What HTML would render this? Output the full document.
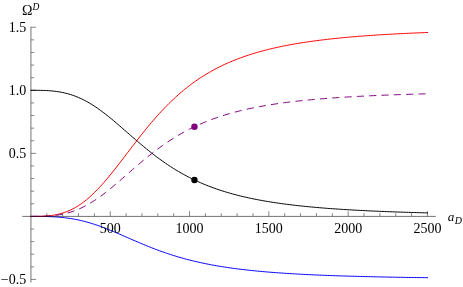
<!DOCTYPE html>
<html><head><meta charset="utf-8"><title>plot</title>
<style>
html,body{margin:0;padding:0;background:#fff;}
svg{display:block;will-change:transform;}
text{font-family:"Liberation Serif","DejaVu Serif",serif;font-size:14px;fill:#000;}
</style></head><body>
<svg width="463" height="287" viewBox="0 0 463 287">
<rect width="463" height="287" fill="#fff"/>
<g fill="none" stroke-width="1" stroke-linejoin="round">
<path d="M30.93,90.30 L32.52,90.30 L34.10,90.30 L35.69,90.31 L37.27,90.32 L38.86,90.34 L40.45,90.36 L42.03,90.40 L43.62,90.44 L45.20,90.51 L46.79,90.58 L48.38,90.68 L49.96,90.79 L51.55,90.92 L53.14,91.07 L54.72,91.25 L56.31,91.45 L57.89,91.68 L59.48,91.93 L61.07,92.21 L62.65,92.52 L64.24,92.87 L65.82,93.24 L67.41,93.65 L69.00,94.10 L70.58,94.57 L72.17,95.09 L73.75,95.64 L75.34,96.22 L76.93,96.85 L78.51,97.51 L80.10,98.20 L81.68,98.94 L83.27,99.71 L84.86,100.52 L86.44,101.37 L88.03,102.26 L89.61,103.17 L91.20,104.13 L92.79,105.12 L94.37,106.14 L95.96,107.20 L97.55,108.28 L99.13,109.40 L100.72,110.54 L102.30,111.71 L103.89,112.91 L105.48,114.14 L107.06,115.38 L108.65,116.65 L110.23,117.93 L111.82,119.23 L113.41,120.55 L114.99,121.89 L116.58,123.23 L118.16,124.59 L119.75,125.96 L121.34,127.33 L122.92,128.71 L124.51,130.09 L126.09,131.48 L127.68,132.87 L129.27,134.25 L130.85,135.64 L132.44,137.02 L134.03,138.39 L135.61,139.76 L137.20,141.12 L138.78,142.48 L140.37,143.82 L141.96,145.16 L143.54,146.48 L145.13,147.79 L146.71,149.09 L148.30,150.37 L149.89,151.64 L151.47,152.89 L153.06,154.12 L154.64,155.34 L156.23,156.55 L157.82,157.73 L159.40,158.90 L160.99,160.05 L162.57,161.18 L164.16,162.29 L165.75,163.39 L167.33,164.46 L168.92,165.52 L170.51,166.55 L172.09,167.57 L173.68,168.57 L175.26,169.55 L176.85,170.51 L178.44,171.46 L180.02,172.38 L181.61,173.28 L183.19,174.17 L184.78,175.04 L186.37,175.89 L187.95,176.72 L189.54,177.54 L191.12,178.34 L192.71,179.12 L194.30,179.88 L195.88,180.63 L197.47,181.36 L199.05,182.07 L200.64,182.77 L202.23,183.46 L203.81,184.13 L205.40,184.78 L206.98,185.42 L208.57,186.04 L210.16,186.65 L211.74,187.25 L213.33,187.83 L214.92,188.40 L216.50,188.96 L218.09,189.50 L219.67,190.04 L221.26,190.56 L222.85,191.06 L224.43,191.56 L226.02,192.04 L227.60,192.52 L229.19,192.98 L230.78,193.43 L232.36,193.88 L233.95,194.31 L235.53,194.73 L237.12,195.14 L238.71,195.55 L240.29,195.94 L241.88,196.32 L243.46,196.70 L245.05,197.07 L246.64,197.43 L248.22,197.78 L249.81,198.12 L251.40,198.46 L252.98,198.79 L254.57,199.11 L256.15,199.42 L257.74,199.73 L259.33,200.03 L260.91,200.32 L262.50,200.61 L264.08,200.89 L265.67,201.17 L267.26,201.43 L268.84,201.70 L270.43,201.95 L272.01,202.21 L273.60,202.45 L275.19,202.69 L276.77,202.93 L278.36,203.16 L279.94,203.38 L281.53,203.60 L283.12,203.82 L284.70,204.03 L286.29,204.24 L287.87,204.44 L289.46,204.64 L291.05,204.83 L292.63,205.02 L294.22,205.21 L295.81,205.39 L297.39,205.57 L298.98,205.75 L300.56,205.92 L302.15,206.09 L303.74,206.25 L305.32,206.41 L306.91,206.57 L308.49,206.72 L310.08,206.87 L311.67,207.02 L313.25,207.17 L314.84,207.31 L316.42,207.45 L318.01,207.59 L319.60,207.72 L321.18,207.86 L322.77,207.98 L324.35,208.11 L325.94,208.24 L327.53,208.36 L329.11,208.48 L330.70,208.59 L332.29,208.71 L333.87,208.82 L335.46,208.93 L337.04,209.04 L338.63,209.15 L340.22,209.25 L341.80,209.36 L343.39,209.46 L344.97,209.56 L346.56,209.65 L348.15,209.75 L349.73,209.84 L351.32,209.93 L352.90,210.02 L354.49,210.11 L356.08,210.20 L357.66,210.29 L359.25,210.37 L360.83,210.45 L362.42,210.53 L364.01,210.61 L365.59,210.69 L367.18,210.77 L368.77,210.84 L370.35,210.92 L371.94,210.99 L373.52,211.06 L375.11,211.13 L376.70,211.20 L378.28,211.27 L379.87,211.34 L381.45,211.40 L383.04,211.47 L384.63,211.53 L386.21,211.59 L387.80,211.65 L389.38,211.71 L390.97,211.77 L392.56,211.83 L394.14,211.89 L395.73,211.95 L397.31,212.00 L398.90,212.06 L400.49,212.11 L402.07,212.16 L403.66,212.22 L405.24,212.27 L406.83,212.32 L408.42,212.37 L410.00,212.42 L411.59,212.46 L413.18,212.51 L414.76,212.56 L416.35,212.60 L417.93,212.65 L419.52,212.69 L421.11,212.74 L422.69,212.78 L424.28,212.82 L425.86,212.86 L427.45,212.90" stroke="#000" stroke-linecap="square"/>
<path d="M30.93,216.40 L32.52,216.40 L34.10,216.40 L35.69,216.40 L37.27,216.41 L38.86,216.42 L40.45,216.43 L42.03,216.45 L43.62,216.47 L45.20,216.50 L46.79,216.54 L48.38,216.59 L49.96,216.64 L51.55,216.71 L53.14,216.79 L54.72,216.87 L56.31,216.97 L57.89,217.09 L59.48,217.21 L61.07,217.36 L62.65,217.51 L64.24,217.68 L65.82,217.87 L67.41,218.08 L69.00,218.30 L70.58,218.54 L72.17,218.79 L73.75,219.07 L75.34,219.36 L76.93,219.67 L78.51,220.00 L80.10,220.35 L81.68,220.72 L83.27,221.11 L84.86,221.51 L86.44,221.94 L88.03,222.38 L89.61,222.84 L91.20,223.31 L92.79,223.81 L94.37,224.32 L95.96,224.85 L97.55,225.39 L99.13,225.95 L100.72,226.52 L102.30,227.11 L103.89,227.71 L105.48,228.32 L107.06,228.94 L108.65,229.57 L110.23,230.22 L111.82,230.87 L113.41,231.53 L114.99,232.19 L116.58,232.87 L118.16,233.55 L119.75,234.23 L121.34,234.91 L122.92,235.60 L124.51,236.30 L126.09,236.99 L127.68,237.68 L129.27,238.38 L130.85,239.07 L132.44,239.76 L134.03,240.45 L135.61,241.13 L137.20,241.81 L138.78,242.49 L140.37,243.16 L141.96,243.83 L143.54,244.49 L145.13,245.14 L146.71,245.79 L148.30,246.43 L149.89,247.07 L151.47,247.69 L153.06,248.31 L154.64,248.92 L156.23,249.52 L157.82,250.12 L159.40,250.70 L160.99,251.27 L162.57,251.84 L164.16,252.40 L165.75,252.94 L167.33,253.48 L168.92,254.01 L170.51,254.53 L172.09,255.04 L173.68,255.54 L175.26,256.03 L176.85,256.51 L178.44,256.98 L180.02,257.44 L181.61,257.89 L183.19,258.34 L184.78,258.77 L186.37,259.20 L187.95,259.61 L189.54,260.02 L191.12,260.42 L192.71,260.81 L194.30,261.19 L195.88,261.56 L197.47,261.93 L199.05,262.29 L200.64,262.64 L202.23,262.98 L203.81,263.31 L205.40,263.64 L206.98,263.96 L208.57,264.27 L210.16,264.58 L211.74,264.88 L213.33,265.17 L214.92,265.45 L216.50,265.73 L218.09,266.00 L219.67,266.27 L221.26,266.53 L222.85,266.78 L224.43,267.03 L226.02,267.27 L227.60,267.51 L229.19,267.74 L230.78,267.97 L232.36,268.19 L233.95,268.40 L235.53,268.61 L237.12,268.82 L238.71,269.02 L240.29,269.22 L241.88,269.41 L243.46,269.60 L245.05,269.78 L246.64,269.96 L248.22,270.14 L249.81,270.31 L251.40,270.48 L252.98,270.64 L254.57,270.80 L256.15,270.96 L257.74,271.12 L259.33,271.27 L260.91,271.41 L262.50,271.56 L264.08,271.70 L265.67,271.83 L267.26,271.97 L268.84,272.10 L270.43,272.23 L272.01,272.35 L273.60,272.48 L275.19,272.60 L276.77,272.71 L278.36,272.83 L279.94,272.94 L281.53,273.05 L283.12,273.16 L284.70,273.27 L286.29,273.37 L287.87,273.47 L289.46,273.57 L291.05,273.67 L292.63,273.76 L294.22,273.85 L295.81,273.95 L297.39,274.04 L298.98,274.12 L300.56,274.21 L302.15,274.29 L303.74,274.37 L305.32,274.46 L306.91,274.53 L308.49,274.61 L310.08,274.69 L311.67,274.76 L313.25,274.83 L314.84,274.91 L316.42,274.98 L318.01,275.04 L319.60,275.11 L321.18,275.18 L322.77,275.24 L324.35,275.31 L325.94,275.37 L327.53,275.43 L329.11,275.49 L330.70,275.55 L332.29,275.60 L333.87,275.66 L335.46,275.72 L337.04,275.77 L338.63,275.82 L340.22,275.88 L341.80,275.93 L343.39,275.98 L344.97,276.03 L346.56,276.08 L348.15,276.12 L349.73,276.17 L351.32,276.22 L352.90,276.26 L354.49,276.31 L356.08,276.35 L357.66,276.39 L359.25,276.43 L360.83,276.48 L362.42,276.52 L364.01,276.56 L365.59,276.60 L367.18,276.63 L368.77,276.67 L370.35,276.71 L371.94,276.75 L373.52,276.78 L375.11,276.82 L376.70,276.85 L378.28,276.88 L379.87,276.92 L381.45,276.95 L383.04,276.98 L384.63,277.02 L386.21,277.05 L387.80,277.08 L389.38,277.11 L390.97,277.14 L392.56,277.17 L394.14,277.19 L395.73,277.22 L397.31,277.25 L398.90,277.28 L400.49,277.31 L402.07,277.33 L403.66,277.36 L405.24,277.38 L406.83,277.41 L408.42,277.43 L410.00,277.46 L411.59,277.48 L413.18,277.51 L414.76,277.53 L416.35,277.55 L417.93,277.57 L419.52,277.60 L421.11,277.62 L422.69,277.64 L424.28,277.66 L425.86,277.68 L427.45,277.70" stroke="#00f" stroke-linecap="square"/>
<path d="M30.93,216.40 L32.52,216.40 L34.10,216.40 L35.69,216.39 L37.27,216.37 L38.86,216.35 L40.45,216.31 L42.03,216.25 L43.62,216.18 L45.20,216.09 L46.79,215.98 L48.38,215.84 L49.96,215.67 L51.55,215.47 L53.14,215.24 L54.72,214.98 L56.31,214.68 L57.89,214.34 L59.48,213.96 L61.07,213.53 L62.65,213.06 L64.24,212.55 L65.82,211.98 L67.41,211.37 L69.00,210.71 L70.58,209.99 L72.17,209.22 L73.75,208.40 L75.34,207.52 L76.93,206.58 L78.51,205.59 L80.10,204.54 L81.68,203.44 L83.27,202.28 L84.86,201.06 L86.44,199.79 L88.03,198.47 L89.61,197.09 L91.20,195.66 L92.79,194.17 L94.37,192.64 L95.96,191.06 L97.55,189.43 L99.13,187.75 L100.72,186.04 L102.30,184.28 L103.89,182.48 L105.48,180.65 L107.06,178.78 L108.65,176.88 L110.23,174.95 L111.82,173.00 L113.41,171.02 L114.99,169.02 L116.58,167.00 L118.16,164.96 L119.75,162.92 L121.34,160.86 L122.92,158.79 L124.51,156.71 L126.09,154.63 L127.68,152.55 L129.27,150.47 L130.85,148.40 L132.44,146.33 L134.03,144.26 L135.61,142.21 L137.20,140.16 L138.78,138.13 L140.37,136.12 L141.96,134.11 L143.54,132.13 L145.13,130.17 L146.71,128.22 L148.30,126.30 L149.89,124.40 L151.47,122.52 L153.06,120.66 L154.64,118.83 L156.23,117.03 L157.82,115.25 L159.40,113.50 L160.99,111.78 L162.57,110.08 L164.16,108.41 L165.75,106.77 L167.33,105.16 L168.92,103.57 L170.51,102.02 L172.09,100.49 L173.68,98.99 L175.26,97.52 L176.85,96.08 L178.44,94.67 L180.02,93.28 L181.61,91.92 L183.19,90.59 L184.78,89.29 L186.37,88.01 L187.95,86.76 L189.54,85.54 L191.12,84.34 L192.71,83.17 L194.30,82.03 L195.88,80.91 L197.47,79.81 L199.05,78.74 L200.64,77.69 L202.23,76.66 L203.81,75.66 L205.40,74.68 L206.98,73.72 L208.57,72.79 L210.16,71.87 L211.74,70.97 L213.33,70.10 L214.92,69.25 L216.50,68.41 L218.09,67.59 L219.67,66.80 L221.26,66.02 L222.85,65.26 L224.43,64.51 L226.02,63.78 L227.60,63.07 L229.19,62.38 L230.78,61.70 L232.36,61.04 L233.95,60.39 L235.53,59.76 L237.12,59.14 L238.71,58.53 L240.29,57.94 L241.88,57.36 L243.46,56.80 L245.05,56.25 L246.64,55.71 L248.22,55.18 L249.81,54.66 L251.40,54.16 L252.98,53.67 L254.57,53.19 L256.15,52.72 L257.74,52.25 L259.33,51.80 L260.91,51.36 L262.50,50.93 L264.08,50.51 L265.67,50.10 L267.26,49.70 L268.84,49.30 L270.43,48.92 L272.01,48.54 L273.60,48.17 L275.19,47.81 L276.77,47.46 L278.36,47.11 L279.94,46.78 L281.53,46.44 L283.12,46.12 L284.70,45.80 L286.29,45.49 L287.87,45.19 L289.46,44.89 L291.05,44.60 L292.63,44.31 L294.22,44.04 L295.81,43.76 L297.39,43.49 L298.98,43.23 L300.56,42.97 L302.15,42.72 L303.74,42.48 L305.32,42.23 L306.91,42.00 L308.49,41.77 L310.08,41.54 L311.67,41.31 L313.25,41.10 L314.84,40.88 L316.42,40.67 L318.01,40.47 L319.60,40.26 L321.18,40.07 L322.77,39.87 L324.35,39.68 L325.94,39.50 L327.53,39.31 L329.11,39.13 L330.70,38.96 L332.29,38.79 L333.87,38.62 L335.46,38.45 L337.04,38.29 L338.63,38.13 L340.22,37.97 L341.80,37.82 L343.39,37.66 L344.97,37.52 L346.56,37.37 L348.15,37.23 L349.73,37.09 L351.32,36.95 L352.90,36.81 L354.49,36.68 L356.08,36.55 L357.66,36.42 L359.25,36.30 L360.83,36.17 L362.42,36.05 L364.01,35.93 L365.59,35.81 L367.18,35.70 L368.77,35.58 L370.35,35.47 L371.94,35.36 L373.52,35.26 L375.11,35.15 L376.70,35.05 L378.28,34.95 L379.87,34.85 L381.45,34.75 L383.04,34.65 L384.63,34.55 L386.21,34.46 L387.80,34.37 L389.38,34.28 L390.97,34.19 L392.56,34.10 L394.14,34.02 L395.73,33.93 L397.31,33.85 L398.90,33.77 L400.49,33.68 L402.07,33.61 L403.66,33.53 L405.24,33.45 L406.83,33.37 L408.42,33.30 L410.00,33.23 L411.59,33.15 L413.18,33.08 L414.76,33.01 L416.35,32.95 L417.93,32.88 L419.52,32.81 L421.11,32.75 L422.69,32.68 L424.28,32.62 L425.86,32.55 L427.45,32.49" stroke="#f00" stroke-linecap="square"/>
<path d="M30.93,216.40 L32.52,216.40 L34.10,216.40 L35.69,216.39 L37.27,216.38 L38.86,216.36 L40.45,216.34 L42.03,216.30 L43.62,216.26 L45.20,216.19 L46.79,216.12 L48.38,216.02 L49.96,215.91 L51.55,215.78 L53.14,215.63 L54.72,215.45 L56.31,215.25 L57.89,215.02 L59.48,214.77 L61.07,214.49 L62.65,214.18 L64.24,213.83 L65.82,213.46 L67.41,213.05 L69.00,212.60 L70.58,212.13 L72.17,211.61 L73.75,211.06 L75.34,210.48 L76.93,209.85 L78.51,209.19 L80.10,208.50 L81.68,207.76 L83.27,206.99 L84.86,206.18 L86.44,205.33 L88.03,204.44 L89.61,203.53 L91.20,202.57 L92.79,201.58 L94.37,200.56 L95.96,199.50 L97.55,198.42 L99.13,197.30 L100.72,196.16 L102.30,194.99 L103.89,193.79 L105.48,192.56 L107.06,191.32 L108.65,190.05 L110.23,188.77 L111.82,187.47 L113.41,186.15 L114.99,184.81 L116.58,183.47 L118.16,182.11 L119.75,180.74 L121.34,179.37 L122.92,177.99 L124.51,176.61 L126.09,175.22 L127.68,173.83 L129.27,172.45 L130.85,171.06 L132.44,169.68 L134.03,168.31 L135.61,166.94 L137.20,165.58 L138.78,164.22 L140.37,162.88 L141.96,161.54 L143.54,160.22 L145.13,158.91 L146.71,157.61 L148.30,156.33 L149.89,155.06 L151.47,153.81 L153.06,152.58 L154.64,151.36 L156.23,150.15 L157.82,148.97 L159.40,147.80 L160.99,146.65 L162.57,145.52 L164.16,144.41 L165.75,143.31 L167.33,142.24 L168.92,141.18 L170.51,140.15 L172.09,139.13 L173.68,138.13 L175.26,137.15 L176.85,136.19 L178.44,135.24 L180.02,134.32 L181.61,133.42 L183.19,132.53 L184.78,131.66 L186.37,130.81 L187.95,129.98 L189.54,129.16 L191.12,128.36 L192.71,127.58 L194.30,126.82 L195.88,126.07 L197.47,125.34 L199.05,124.63 L200.64,123.93 L202.23,123.24 L203.81,122.57 L205.40,121.92 L206.98,121.28 L208.57,120.66 L210.16,120.05 L211.74,119.45 L213.33,118.87 L214.92,118.30 L216.50,117.74 L218.09,117.20 L219.67,116.66 L221.26,116.14 L222.85,115.64 L224.43,115.14 L226.02,114.66 L227.60,114.18 L229.19,113.72 L230.78,113.27 L232.36,112.82 L233.95,112.39 L235.53,111.97 L237.12,111.56 L238.71,111.15 L240.29,110.76 L241.88,110.38 L243.46,110.00 L245.05,109.63 L246.64,109.27 L248.22,108.92 L249.81,108.58 L251.40,108.24 L252.98,107.91 L254.57,107.59 L256.15,107.28 L257.74,106.97 L259.33,106.67 L260.91,106.38 L262.50,106.09 L264.08,105.81 L265.67,105.53 L267.26,105.27 L268.84,105.00 L270.43,104.75 L272.01,104.49 L273.60,104.25 L275.19,104.01 L276.77,103.77 L278.36,103.54 L279.94,103.32 L281.53,103.10 L283.12,102.88 L284.70,102.67 L286.29,102.46 L287.87,102.26 L289.46,102.06 L291.05,101.87 L292.63,101.68 L294.22,101.49 L295.81,101.31 L297.39,101.13 L298.98,100.95 L300.56,100.78 L302.15,100.61 L303.74,100.45 L305.32,100.29 L306.91,100.13 L308.49,99.98 L310.08,99.83 L311.67,99.68 L313.25,99.53 L314.84,99.39 L316.42,99.25 L318.01,99.11 L319.60,98.98 L321.18,98.84 L322.77,98.72 L324.35,98.59 L325.94,98.46 L327.53,98.34 L329.11,98.22 L330.70,98.11 L332.29,97.99 L333.87,97.88 L335.46,97.77 L337.04,97.66 L338.63,97.55 L340.22,97.45 L341.80,97.34 L343.39,97.24 L344.97,97.14 L346.56,97.05 L348.15,96.95 L349.73,96.86 L351.32,96.77 L352.90,96.68 L354.49,96.59 L356.08,96.50 L357.66,96.41 L359.25,96.33 L360.83,96.25 L362.42,96.17 L364.01,96.09 L365.59,96.01 L367.18,95.93 L368.77,95.86 L370.35,95.78 L371.94,95.71 L373.52,95.64 L375.11,95.57 L376.70,95.50 L378.28,95.43 L379.87,95.36 L381.45,95.30 L383.04,95.23 L384.63,95.17 L386.21,95.11 L387.80,95.05 L389.38,94.99 L390.97,94.93 L392.56,94.87 L394.14,94.81 L395.73,94.75 L397.31,94.70 L398.90,94.64 L400.49,94.59 L402.07,94.54 L403.66,94.48 L405.24,94.43 L406.83,94.38 L408.42,94.33 L410.00,94.28 L411.59,94.24 L413.18,94.19 L414.76,94.14 L416.35,94.10 L417.93,94.05 L419.52,94.01 L421.11,93.96 L422.69,93.92 L424.28,93.88 L425.86,93.84 L427.45,93.80" stroke="#800080" stroke-dasharray="7.15 5.18"/>
</g>
<g fill="none" stroke="#000" stroke-width="0.92" opacity="0.6">
<path d="M22.3,216.4 H435.8 M30.93,26.7 V282.6"/>
<path d="M46.79,216.4 v-3.2 M62.65,216.4 v-3.2 M78.51,216.4 v-3.2 M94.37,216.4 v-3.2 M110.23,216.4 v-5.2 M126.09,216.4 v-3.2 M141.96,216.4 v-3.2 M157.82,216.4 v-3.2 M173.68,216.4 v-3.2 M189.54,216.4 v-5.2 M205.40,216.4 v-3.2 M221.26,216.4 v-3.2 M237.12,216.4 v-3.2 M252.98,216.4 v-3.2 M268.84,216.4 v-5.2 M284.70,216.4 v-3.2 M300.56,216.4 v-3.2 M316.42,216.4 v-3.2 M332.29,216.4 v-3.2 M348.15,216.4 v-5.2 M364.01,216.4 v-3.2 M379.87,216.4 v-3.2 M395.73,216.4 v-3.2 M411.59,216.4 v-3.2 M427.45,216.4 v-5.2 M30.93,279.45 h5.2 M30.93,266.84 h3.2 M30.93,254.23 h3.2 M30.93,241.62 h3.2 M30.93,229.01 h3.2 M30.93,203.79 h3.2 M30.93,191.18 h3.2 M30.93,178.57 h3.2 M30.93,165.96 h3.2 M30.93,153.35 h5.2 M30.93,140.74 h3.2 M30.93,128.13 h3.2 M30.93,115.52 h3.2 M30.93,102.91 h3.2 M30.93,90.30 h5.2 M30.93,77.69 h3.2 M30.93,65.08 h3.2 M30.93,52.47 h3.2 M30.93,39.86 h3.2 M30.93,27.25 h5.2" stroke-width="0.8"/>
</g>
<circle cx="194.45" cy="126.74" r="3.2" fill="#800080"/>
<circle cx="194.45" cy="179.96" r="3.2" fill="#000"/>
<g><text x="110.23" y="233.0" text-anchor="middle">500</text><text x="189.54" y="233.0" text-anchor="middle">1000</text><text x="268.84" y="233.0" text-anchor="middle">1500</text><text x="348.15" y="233.0" text-anchor="middle">2000</text><text x="427.45" y="233.0" text-anchor="middle">2500</text><text x="26.2" y="31.95" text-anchor="end">1.5</text><text x="26.2" y="95.00" text-anchor="end">1.0</text><text x="26.2" y="158.05" text-anchor="end">0.5</text><text x="26.2" y="284.15" text-anchor="end">−0.5</text></g>
<text x="22" y="14.8" style="font-size:14px">Ω<tspan dy="-4.6" style="font-size:9.5px;font-style:italic">D</tspan></text>
<text x="447.8" y="220.8" style="font-size:13.2px;font-style:italic">a<tspan dx="0.3" dy="3.2" style="font-size:10px">D</tspan></text>
</svg>
</body></html>
